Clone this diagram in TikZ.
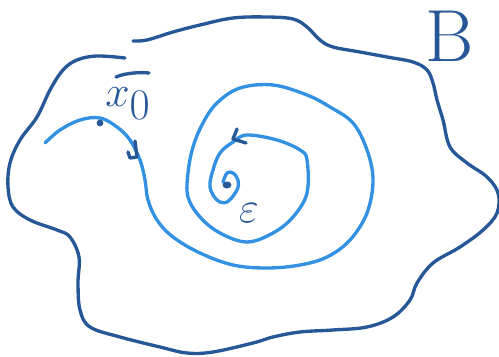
\documentclass[tikz,border=0pt]{standalone}
\definecolor{inkdark}{RGB}{38,88,152}
\definecolor{inklight}{RGB}{50,145,226}
\begin{document}
\begin{tikzpicture}[x=0.02cm,y=-0.02cm,
  darkline/.style={draw=inkdark,line width=1.9pt,line cap=round,line join=round},
  lightline/.style={draw=inklight,line width=1.9pt,line cap=round,line join=round},
  handlabel/.style={text=inkdark,inner sep=0pt}]
\useasboundingbox (0,0) rectangle (499,357);
% outer set boundary (two strokes)
\draw[darkline] plot[smooth,tension=0.6] coordinates {(133,41) (147,40) (173,32) (200,25) (233,18) (267,17) (293,19) (307,27) (320,40) (333,47) (360,52) (387,57) (413,62) (427,70) (433,83) (437,100) (443,120) (450,147) (467,163) (487,177) (498,193) (497,213) (483,230) (460,247) (433,263) (417,283) (410,300) (393,317) (367,327) (333,330) (300,332) (273,337) (253,343) (213,352) (187,353) (160,347) (120,337) (90,327) (80,310) (78,283) (79,257) (70,237) (57,230) (30,220) (13,207) (8,187) (10,163) (20,140) (37,117) (50,90) (63,70) (77,60) (97,56) (125,58)};
% spiral trajectory
\draw[lightline] plot[smooth,tension=0.6] coordinates {(45,143) (60,130) (80,120) (100,118) (117,127) (130,140) (140,160) (145,180) (148,200) (157,220) (173,237) (200,253) (233,265) (267,268) (300,265) (327,257) (350,240) (367,213) (373,180) (367,150) (353,123) (330,107) (307,95) (273,85) (240,88) (217,103) (203,123) (193,147) (188,173) (188,197) (200,217) (220,233) (247,242) (273,233) (293,217) (307,193) (307,160) (300,150) (277,140) (247,135) (233,142) (220,153) (213,170) (210,187) (217,200) (227,202) (237,190) (238,180) (233,173) (227,173) (223,182)};
% point x0 and equilibrium
\fill[inkdark] (100,123) circle (3.4);
\fill[inkdark] (227,185) ellipse (4.5 and 3.5);
% arrowheads drawn by hand
\draw[darkline] (237,129) -- (233,139) -- (246,143);
\draw[darkline] (135,141) -- (137,157) -- (130,158) -- (128,152);
% labels
\node[handlabel,font=\fontsize{42}{42}\selectfont] (lblB) at (450,36) {B};
\node[handlabel,font=\fontsize{36}{36}\selectfont] (lblx) at (128,104) {$x_0$};
\draw[darkline] (116,77) .. controls (125,73) and (140,72) .. (149,73);
\node[handlabel,font=\fontsize{42}{42}\selectfont] (lbleps) at (249,213) {$\varepsilon$};
\end{tikzpicture}
\end{document}
